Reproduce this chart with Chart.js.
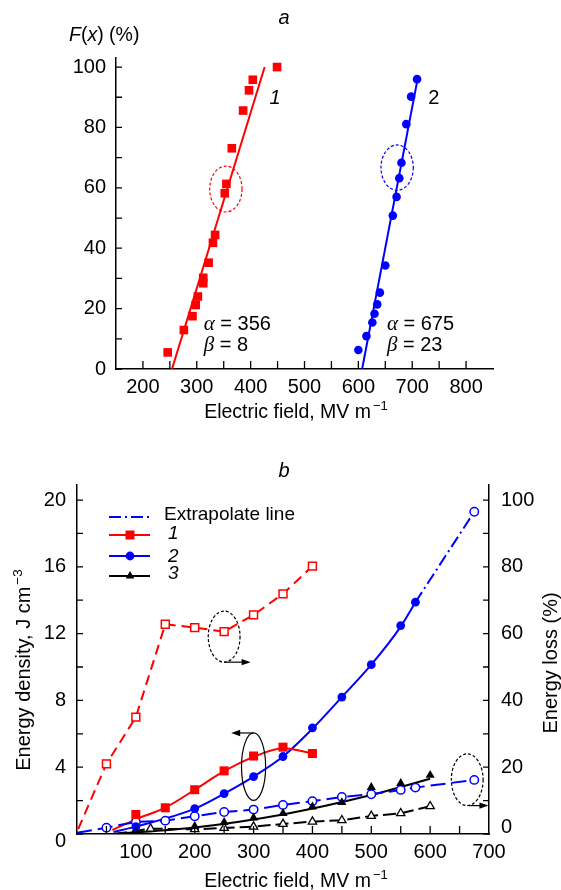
<!DOCTYPE html>
<html>
<head>
<meta charset="utf-8">
<script src="https://cdn.jsdelivr.net/npm/chart.js@4.4.1/dist/chart.umd.min.js"></script>
<style>
  html, body { margin: 0; padding: 0; background: #fff; }
  #wrap { position: relative; width: 561px; height: 890px; }
  #chartA { position: absolute; left: 0; top: 0; }
  #chartB { position: absolute; left: 0; top: 440px; }
</style>
</head>
<body>
<div id="wrap">
  <canvas id="chartA" width="561" height="440"></canvas>
  <canvas id="chartB" width="561" height="450"></canvas>
</div>
<script>
const red = '#ff0000', blue = '#0000ff', black = '#000000';
const FONT = 'Arial, "Liberation Sans", Helvetica, sans-serif';
const SERIF = '"Liberation Serif", "DejaVu Serif", "Times New Roman", serif';

// ---------- panel a : Weibull distribution of breakdown field ----------
const fieldA1 = [246, 276, 292, 298, 302, 312, 312, 322, 330, 334, 352, 355, 365, 386, 397, 404, 449];
const probA1 = [5.5, 12.9, 17.5, 21.2, 24, 28.4, 30.2, 35.2, 41.8, 44.4, 58.2, 61.3, 73.1, 85.6, 92.3, 95.8, 100];
const fieldA2 = [600, 615, 626, 630, 635, 640, 650, 664, 671, 676, 680, 689, 698, 709];
const probA2 = [6.3, 10.9, 15.4, 18.3, 21.4, 25.3, 34.3, 50.8, 57.0, 63.2, 68.3, 81.1, 90.2, 96.0];
const fitFieldA1 = [254, 426];
const fitProbA1 = [0, 100];
const fitFieldA2 = [607, 711];
const fitProbA2 = [0, 97];
const xTicksA = [200, 300, 400, 500, 600, 700, 800];
const xTickLabelsA = ['200', '300', '400', '500', '600', '700', '800'];
const yTicksA = [0, 20, 40, 60, 80, 100];
const yTickLabelsA = ['0', '20', '40', '60', '80', '100'];
const xMarksA = [200, 250, 300, 350, 400, 450, 500, 550, 600, 650, 700, 750, 800];
const yMarksA = [0, 10, 20, 30, 40, 50, 60, 70, 80, 90, 100];

// ---------- panel b : energy density and energy loss ----------
const fieldB1 = [100, 150, 200, 250, 300, 350, 400];
const energyB1 = [1.17, 1.57, 2.65, 3.78, 4.67, 5.2, 4.82];
const fieldB2 = [100, 200, 250, 300, 350, 400, 450, 500, 550, 575];
const energyB2 = [0.44, 1.52, 2.42, 3.44, 4.64, 6.36, 8.2, 10.14, 12.48, 13.88];
const fieldB3 = [100, 200, 250, 300, 350, 400, 450, 500, 550, 600];
const energyB3 = [0.22, 0.46, 0.7, 0.97, 1.24, 1.63, 1.89, 2.8, 3.03, 3.52];

// fitted curves drawn through the density points
const curveField1 = [60, 100, 150, 200, 250, 300, 350, 400];
const curveEnergy1 = [0.24, 0.88, 1.58, 2.65, 3.76, 4.62, 5.14, 4.82];
const curveField2 = [62, 100, 200, 250, 300, 350, 400, 450, 500, 550, 575];
const curveEnergy2 = [0.12, 0.44, 1.52, 2.42, 3.44, 4.64, 6.3, 8.2, 10.14, 12.42, 13.88];
const curveField3 = [63, 200, 350, 500, 600];
const curveEnergy3 = [0, 0.39, 1.17, 2.33, 3.31];
const extrapField = [575, 675];
const extrapEnergy = [13.88, 19.3];

// energy loss (right axis, %)
const lossField1 = [2, 50, 100, 150, 200, 250, 300, 350, 400];
const loss1 = [1.5, 21, 35, 62.8, 61.8, 60.6, 65.6, 71.9, 80.2];
const lossField2 = [0, 50, 100, 150, 200, 250, 300, 350, 400, 450, 500, 550, 575, 675];
const loss2 = [0.4, 1.9, 3.6, 4.0, 5.3, 6.6, 7.3, 8.7, 9.8, 11.1, 11.9, 13.2, 13.9, 16.2];
const lossField3 = [63, 125, 200, 250, 300, 350, 400, 450, 500, 550, 600];
const loss3 = [0, 1.6, 1.4, 1.8, 2.2, 3.0, 3.7, 4.1, 5.4, 6.2, 8.3];

const xTicksB = [100, 200, 300, 400, 500, 600, 700];
const xTickLabelsB = ['100', '200', '300', '400', '500', '600', '700'];
const yTicksB = [0, 4, 8, 12, 16, 20];
const yTickLabelsB = ['0', '4', '8', '12', '16', '20'];
const y2TicksB = [0, 20, 40, 60, 80, 100];
const y2TickLabelsB = ['0', '20', '40', '60', '80', '100'];
const xMarksB = [50, 100, 150, 200, 250, 300, 350, 400, 450, 500, 550, 600, 650];
const yMarksB = [0, 2, 4, 6, 8, 10, 12, 14, 16, 18, 20];
const y2MarksB = [0, 10, 20, 30, 40, 50, 60, 70, 80, 90, 100];

const legendLabels = ['Extrapolate line', '1', '2', '3'];

function pts(xs, ys) {
  return xs.map((x, i) => ({ x: x, y: ys[i] }));
}

// draws a row of text pieces with their own fonts, starting at x (or centred)
function drawRuns(ctx, runs, x, y, center) {
  let total = 0;
  runs.forEach(r => { ctx.font = r.f; r.w = ctx.measureText(r.t).width + (r.gap || 0); total += r.w; });
  let cx = center ? x - total / 2 : x;
  runs.forEach(r => {
    ctx.font = r.f;
    ctx.fillText(r.t, cx + (r.gap || 0), y + (r.dy || 0));
    cx += r.w;
  });
}

function drawInsideTicks(chart, id, values, len) {
  const s = chart.scales[id], ctx = chart.ctx, a = chart.chartArea;
  ctx.save();
  ctx.strokeStyle = '#000';
  ctx.lineWidth = 1.3;
  ctx.beginPath();
  values.forEach(v => {
    const p = s.getPixelForValue(v);
    if (s.isHorizontal()) { ctx.moveTo(p, a.bottom); ctx.lineTo(p, a.bottom - len); }
    else if (s.position === 'left') { ctx.moveTo(a.left, p); ctx.lineTo(a.left + len, p); }
    else { ctx.moveTo(a.right, p); ctx.lineTo(a.right - len, p); }
  });
  ctx.stroke();
  ctx.restore();
}

function drawEllipse(ctx, xs, ys, e) {
  const cx = xs.getPixelForValue(e.cx), cy = ys.getPixelForValue(e.cy);
  const rx = Math.abs(xs.getPixelForValue(e.cx + e.rx) - cx);
  const ry = Math.abs(ys.getPixelForValue(e.cy + e.ry) - cy);
  ctx.save();
  ctx.strokeStyle = e.color;
  ctx.lineWidth = 1.2;
  ctx.setLineDash(e.dash);
  ctx.beginPath();
  ctx.ellipse(cx, cy, rx, ry, 0, 0, Math.PI * 2);
  ctx.stroke();
  ctx.restore();
}

function drawArrow(ctx, xs, ys, a) {
  const x1 = xs.getPixelForValue(a.x1), y1 = ys.getPixelForValue(a.y1);
  const x2 = xs.getPixelForValue(a.x2), y2 = ys.getPixelForValue(a.y2);
  const ang = Math.atan2(y2 - y1, x2 - x1), L = 9, W = 3.2;
  ctx.save();
  ctx.strokeStyle = '#000';
  ctx.fillStyle = '#000';
  ctx.lineWidth = 1.2;
  ctx.beginPath();
  ctx.moveTo(x1, y1);
  ctx.lineTo(x2 - L * 0.7 * Math.cos(ang), y2 - L * 0.7 * Math.sin(ang));
  ctx.stroke();
  ctx.beginPath();
  ctx.moveTo(x2, y2);
  ctx.lineTo(x2 - L * Math.cos(ang) + W * Math.sin(ang), y2 - L * Math.sin(ang) - W * Math.cos(ang));
  ctx.lineTo(x2 - L * Math.cos(ang) - W * Math.sin(ang), y2 - L * Math.sin(ang) + W * Math.cos(ang));
  ctx.closePath();
  ctx.fill();
  ctx.restore();
}

// decorations, in data units
const ellipsesA = [
  { cx: 354, cy: 59.6, rx: 30, ry: 7.6, color: red, dash: [3, 2] },
  { cx: 672, cy: 66.7, rx: 30, ry: 7.5, color: blue, dash: [3, 2] }
];
const ellipsesB = [
  { cx: 250, cy: 11.82, rx: 27, ry: 1.53, color: black, dash: [3, 2] },
  { cx: 300, cy: 4.03, rx: 20.5, ry: 2.02, color: black, dash: [] },
  { cx: 663, cy: 3.25, rx: 27, ry: 1.55, color: black, dash: [3, 2] }
];
const arrowsB = [
  { x1: 250, y1: 10.29, x2: 295, y2: 10.29 },
  { x1: 300, y1: 6.05, x2: 262, y2: 6.05 },
  { x1: 666, y1: 1.7, x2: 699, y2: 1.7 }
];

Chart.defaults.font.family = FONT;
Chart.defaults.font.size = 20;
Chart.defaults.color = '#000';

const axisBorder = { display: true, color: '#000', width: 1.5 };
const noGrid = { display: false, drawTicks: false };

function fixedTicks(values) {
  return s => { s.ticks = values.map(v => ({ value: v })); };
}

// ---------------- chart a ----------------
const decorA = {
  id: 'decorA',
  afterDatasetsDraw(chart) {
    const ctx = chart.ctx, xs = chart.scales.x, ys = chart.scales.y;
    ellipsesA.forEach(e => drawEllipse(ctx, xs, ys, e));
  },
  afterDraw(chart) {
    const ctx = chart.ctx, xs = chart.scales.x, ys = chart.scales.y;
    drawInsideTicks(chart, 'x', xMarksA, 8);
    drawInsideTicks(chart, 'y', yMarksA, 6);
    ctx.save();
    ctx.fillStyle = '#000';
    ctx.textBaseline = 'alphabetic';
    drawRuns(ctx, [{ t: 'a', f: 'italic 20px ' + FONT }], 284, 24, true);
    drawRuns(ctx, [
      { t: 'F', f: 'italic 19.5px ' + FONT },
      { t: '(', f: '19.5px ' + FONT },
      { t: 'x', f: 'italic 19.5px ' + FONT },
      { t: ') (%)', f: '19.5px ' + FONT }
    ], 69, 41, false);
    drawRuns(ctx, [
      { t: 'Electric field, MV m', f: '19.5px ' + FONT },
      { t: '\u22121', f: '13px ' + FONT, dy: -8, gap: 2 }
    ], 296, 418, true);
    drawRuns(ctx, [{ t: '1', f: 'italic 20px ' + FONT }], xs.getPixelForValue(435), ys.getPixelForValue(90) + 7, false);
    drawRuns(ctx, [{ t: '2', f: '20px ' + FONT }], xs.getPixelForValue(730), ys.getPixelForValue(90) + 7, false);
    const greek = 'italic 21px ' + SERIF, plain = '20px ' + FONT;
    drawRuns(ctx, [{ t: '\u03B1', f: greek }, { t: ' = 356', f: plain }], xs.getPixelForValue(313), ys.getPixelForValue(15.3) + 7, false);
    drawRuns(ctx, [{ t: '\u03B2', f: greek }, { t: ' = 8', f: plain }], xs.getPixelForValue(313), ys.getPixelForValue(8.2) + 7, false);
    drawRuns(ctx, [{ t: '\u03B1', f: greek }, { t: ' = 675', f: plain }], xs.getPixelForValue(653), ys.getPixelForValue(15.3) + 7, false);
    drawRuns(ctx, [{ t: '\u03B2', f: greek }, { t: ' = 23', f: plain }], xs.getPixelForValue(653), ys.getPixelForValue(8.2) + 7, false);
    ctx.restore();
  }
};

new Chart(document.getElementById('chartA'), {
  type: 'scatter',
  data: {
    datasets: [
      { data: pts(fieldA1, probA1), pointStyle: 'rect', pointRadius: 6.1, pointBackgroundColor: red, pointBorderWidth: 0 },
      { data: pts(fieldA2, probA2), pointStyle: 'circle', pointRadius: 4.3, pointBackgroundColor: blue, pointBorderWidth: 0 },
      { data: pts(fitFieldA1, fitProbA1), showLine: true, borderColor: red, borderWidth: 2, pointRadius: 0 },
      { data: pts(fitFieldA2, fitProbA2), showLine: true, borderColor: blue, borderWidth: 2, pointRadius: 0 }
    ]
  },
  options: {
    responsive: false,
    animation: false,
    layout: { padding: { top: 58, right: 68, bottom: 0, left: 0 } },
    plugins: { legend: { display: false }, tooltip: { enabled: false } },
    scales: {
      x: {
        type: 'linear', min: 150, max: 850,
        grid: noGrid, border: axisBorder,
        ticks: { padding: 6, callback: (v, i) => xTickLabelsA[i] },
        afterBuildTicks: fixedTicks(xTicksA),
        afterFit: s => { s.height = 71; }
      },
      y: {
        type: 'linear', min: 0, max: 103,
        grid: noGrid, border: axisBorder,
        ticks: { padding: 10, callback: (v, i) => yTickLabelsA[i] },
        afterBuildTicks: fixedTicks(yTicksA),
        afterFit: s => { s.width = 116; }
      }
    }
  },
  plugins: [decorA]
});

// ---------------- chart b ----------------
const decorB = {
  id: 'decorB',
  afterDatasetsDraw(chart) {
    const ctx = chart.ctx, xs = chart.scales.x, ys = chart.scales.y;
    ellipsesB.forEach(e => drawEllipse(ctx, xs, ys, e));
    arrowsB.forEach(a => drawArrow(ctx, xs, ys, a));
  },
  afterDraw(chart) {
    const ctx = chart.ctx, a = chart.chartArea;
    drawInsideTicks(chart, 'x', xMarksB, 8);
    drawInsideTicks(chart, 'y', yMarksB, 6);
    drawInsideTicks(chart, 'y2', y2MarksB, 6);
    ctx.save();
    ctx.fillStyle = '#000';
    ctx.textBaseline = 'alphabetic';
    // the two zero labels sit off the axis line in the original
    ctx.font = '20px ' + FONT;
    ctx.textAlign = 'right';
    ctx.fillText(yTickLabelsB[0], a.left - 11, a.bottom + 13);
    ctx.textAlign = 'left';
    ctx.fillText(y2TickLabelsB[0], a.right + 12, a.bottom - 1);
    ctx.textAlign = 'start';
    drawRuns(ctx, [{ t: 'b', f: 'italic 20px ' + FONT }], 284, 37, true);
    drawRuns(ctx, [
      { t: 'Electric field, MV m', f: '19.5px ' + FONT },
      { t: '\u22121', f: '13px ' + FONT, dy: -8, gap: 2 }
    ], 296, 447, true);
    // left title
    ctx.save();
    ctx.translate(30, 230);
    ctx.rotate(-Math.PI / 2);
    drawRuns(ctx, [
      { t: 'Energy density, J cm', f: '20px ' + FONT },
      { t: '\u22123', f: '13.5px ' + FONT, dy: -8, gap: 2 }
    ], 0, 0, true);
    ctx.restore();
    // right title
    ctx.save();
    ctx.translate(557, 223);
    ctx.rotate(-Math.PI / 2);
    drawRuns(ctx, [{ t: 'Energy loss (%)', f: '20px ' + FONT }], 0, 0, true);
    ctx.restore();

    // legend
    const rows = [77, 95, 116, 136];
    const lx1 = 109, lx2 = 150, mx = 130, tx = 164;
    ctx.lineWidth = 2;
    rows.forEach((ry, i) => {
      ctx.beginPath();
      ctx.strokeStyle = [blue, red, blue, black][i];
      ctx.setLineDash(i === 0 ? [12, 4, 2, 4] : []);
      ctx.moveTo(lx1, ry); ctx.lineTo(lx2, ry);
      ctx.stroke();
    });
    ctx.setLineDash([]);
    ctx.fillStyle = red; ctx.fillRect(mx - 4.5, rows[1] - 4.5, 9, 9);
    ctx.fillStyle = blue; ctx.beginPath(); ctx.arc(mx, rows[2], 4.4, 0, Math.PI * 2); ctx.fill();
    ctx.fillStyle = black; ctx.beginPath();
    ctx.moveTo(mx, rows[3] - 5); ctx.lineTo(mx + 4.3, rows[3] + 2.5); ctx.lineTo(mx - 4.3, rows[3] + 2.5);
    ctx.closePath(); ctx.fill();
    ctx.fillStyle = '#000';
    drawRuns(ctx, [{ t: legendLabels[0], f: '19px ' + FONT }], tx, rows[0] + 3, false);
    drawRuns(ctx, [{ t: legendLabels[1], f: 'italic 19px ' + FONT }], tx + 4, rows[1] + 4, false);
    drawRuns(ctx, [{ t: legendLabels[2], f: 'italic 19px ' + FONT }], tx + 4, rows[2] + 6, false);
    drawRuns(ctx, [{ t: legendLabels[3], f: 'italic 19px ' + FONT }], tx + 4, rows[3] + 3, false);
    ctx.restore();
  }
};

const startHidden = r => c => (c.dataIndex === 0 ? 0 : r);

new Chart(document.getElementById('chartB'), {
  type: 'scatter',
  data: {
    datasets: [
      { data: pts(fieldB1, energyB1), yAxisID: 'y', pointStyle: 'rect', pointRadius: 6.4, pointBackgroundColor: red, pointBorderWidth: 0 },
      { data: pts(fieldB2, energyB2), yAxisID: 'y', pointStyle: 'circle', pointRadius: 4.4, pointBackgroundColor: blue, pointBorderWidth: 0 },
      { data: pts(fieldB3, energyB3), yAxisID: 'y', pointStyle: 'triangle', pointRadius: 5.3, pointBackgroundColor: black, pointBorderWidth: 0 },
      { data: pts(extrapField, extrapEnergy), yAxisID: 'y', showLine: true, borderColor: blue, borderWidth: 2,
        borderDash: [12, 4, 2, 4], pointStyle: 'circle', pointRadius: startHidden(4.2),
        pointBackgroundColor: '#fff', pointBorderColor: blue, pointBorderWidth: 1.5 },
      { data: pts(lossField1, loss1), yAxisID: 'y2', showLine: true, borderColor: red, borderWidth: 2,
        borderDash: [10, 6], pointStyle: 'rect', pointRadius: startHidden(5.6),
        pointBackgroundColor: '#fff', pointBorderColor: red, pointBorderWidth: 1.5 },
      { data: pts(lossField2, loss2), yAxisID: 'y2', showLine: true, borderColor: blue, borderWidth: 2,
        borderDash: [15, 6], pointStyle: 'circle', pointRadius: startHidden(4.2),
        pointBackgroundColor: '#fff', pointBorderColor: blue, pointBorderWidth: 1.5 },
      { data: pts(lossField3, loss3), yAxisID: 'y2', showLine: true, borderColor: black, borderWidth: 2,
        borderDash: [13, 5], pointStyle: 'triangle', pointRadius: startHidden(4.8),
        pointBackgroundColor: '#fff', pointBorderColor: black, pointBorderWidth: 1.3 },
      { data: pts(curveField1, curveEnergy1), yAxisID: 'y', showLine: true, borderColor: red, borderWidth: 2,
        pointRadius: 0, cubicInterpolationMode: 'monotone' },
      { data: pts(curveField2, curveEnergy2), yAxisID: 'y', showLine: true, borderColor: blue, borderWidth: 2,
        pointRadius: 0, cubicInterpolationMode: 'monotone' },
      { data: pts(curveField3, curveEnergy3), yAxisID: 'y', showLine: true, borderColor: black, borderWidth: 2,
        pointRadius: 0, cubicInterpolationMode: 'monotone' }
    ]
  },
  options: {
    responsive: false,
    animation: false,
    layout: { padding: { top: 45, right: 0, bottom: 0, left: 0 } },
    plugins: { legend: { display: false }, tooltip: { enabled: false } },
    scales: {
      x: {
        type: 'linear', min: 0, max: 700,
        grid: noGrid, border: axisBorder,
        ticks: { padding: 6, callback: (v, i) => xTickLabelsB[i] },
        afterBuildTicks: fixedTicks(xTicksB),
        afterFit: s => { s.height = 56; }
      },
      y: {
        type: 'linear', position: 'left', min: 0, max: 20.9,
        grid: noGrid, border: axisBorder,
        ticks: { padding: 11, callback: (v, i) => (i === 0 ? '' : yTickLabelsB[i]) },
        afterBuildTicks: fixedTicks(yTicksB),
        afterFit: s => { s.width = 77; }
      },
      y2: {
        type: 'linear', position: 'right', min: 0, max: 104.5,
        grid: noGrid, border: axisBorder,
        ticks: { padding: 12, callback: (v, i) => (i === 0 ? '' : y2TickLabelsB[i]) },
        afterBuildTicks: fixedTicks(y2TicksB),
        afterFit: s => { s.width = 72; }
      }
    }
  },
  plugins: [decorB]
});
</script>
</body>
</html>
